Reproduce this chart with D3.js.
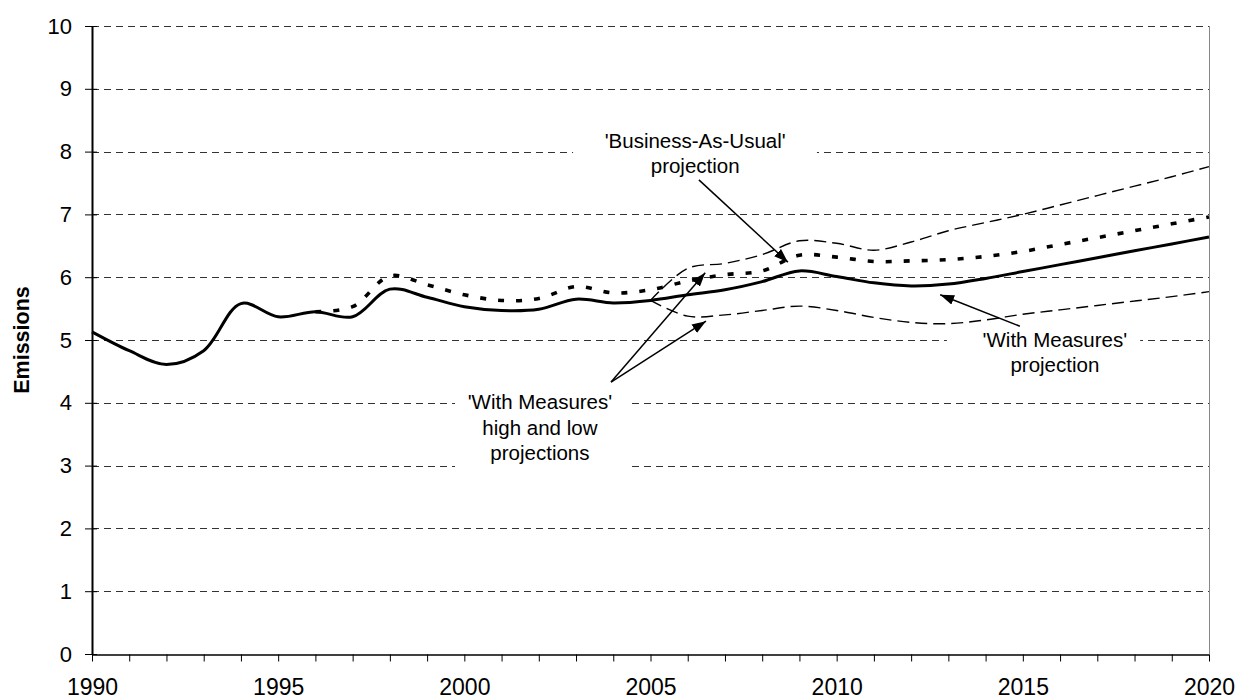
<!DOCTYPE html>
<html>
<head>
<meta charset="utf-8">
<script src="https://cdn.jsdelivr.net/npm/d3@7"></script>
<style>
  body { margin: 0; background: #fff; }
  svg { display: block; }
  text { font-family: "Liberation Sans", Arial, Helvetica, sans-serif; fill: #000; }
</style>
</head>
<body>
<svg id="chart" width="1239" height="700"></svg>
<script>
// Emissions, 1990–2020: history plus projections
const years = [1990, 1991, 1992, 1993, 1994, 1995, 1996, 1997, 1998, 1999,
               2000, 2001, 2002, 2003, 2004, 2005, 2006, 2007, 2008, 2009,
               2010, 2011, 2012, 2013, 2014, 2015, 2016, 2017, 2018, 2019, 2020];

const withMeasures = [5.13, 4.83, 4.61, 4.83, 5.58, 5.37, 5.45, 5.37, 5.81, 5.68,
                      5.53, 5.47, 5.49, 5.65, 5.59, 5.63, 5.72, 5.80, 5.93, 6.10,
                      6.01, 5.91, 5.86, 5.89, 5.98, 6.09, 6.20, 6.31, 6.42, 6.53, 6.64];

const businessAsUsual = [null, null, null, null, null, null, 5.45, 5.53, 6.02, 5.88,
                         5.72, 5.63, 5.66, 5.85, 5.75, 5.80, 5.94, 6.04, 6.10, 6.35,
                         6.32, 6.25, 6.26, 6.28, 6.33, 6.41, 6.52, 6.63, 6.74, 6.85, 6.96];

const withMeasuresHigh = [null, null, null, null, null, null, null, null, null, null,
                          null, null, null, null, null, 5.63, 6.14, 6.22, 6.36, 6.58,
                          6.54, 6.43, 6.56, 6.74, 6.87, 7.00, 7.15, 7.30, 7.45, 7.60, 7.76];

const withMeasuresLow = [null, null, null, null, null, null, null, null, null, null,
                         null, null, null, null, null, 5.63, 5.38, 5.40, 5.47, 5.54,
                         5.47, 5.36, 5.28, 5.26, 5.32, 5.41, 5.48, 5.55, 5.62, 5.69, 5.77];

const yTicks = [0, 1, 2, 3, 4, 5, 6, 7, 8, 9, 10];
const xTickLabels = [1990, 1995, 2000, 2005, 2010, 2015, 2020];

const svg = d3.select("#chart");
const x = d3.scaleLinear().domain([1990, 2020]).range([92, 1209]);
const y = d3.scaleLinear().domain([0, 10]).range([654, 26]);
const crisp = v => Math.round(v) + 0.5;
const FONT = "'Liberation Sans', Arial, Helvetica, sans-serif";

// horizontal dashed gridlines
svg.append("g").selectAll("line")
  .data(yTicks.filter(v => v > 0))
  .join("line")
  .attr("x1", x(1990)).attr("x2", x(2020))
  .attr("y1", d => crisp(y(d))).attr("y2", d => crisp(y(d)))
  .attr("stroke", "#333").attr("stroke-width", 1)
  .attr("stroke-dasharray", "7,5");

// right edge of the plot area
svg.append("line")
  .attr("x1", crisp(x(2020))).attr("x2", crisp(x(2020)))
  .attr("y1", y(10)).attr("y2", y(0))
  .attr("stroke", "#888").attr("stroke-width", 1);

// white panels behind the annotation text (in data units)
const panels = [
  { x0: 2002.92, x1: 2009.47, y0: 7.6, y1: 8.4 },
  { x0: 1999.75, x1: 2004.40, y0: 2.7, y1: 4.2 },
  { x0: 2012.96, x1: 2018.15, y0: 4.45, y1: 5.2 }
];
svg.append("g").selectAll("rect")
  .data(panels)
  .join("rect")
  .attr("x", d => x(d.x0)).attr("width", d => x(d.x1) - x(d.x0))
  .attr("y", d => y(d.y1)).attr("height", d => y(d.y0) - y(d.y1))
  .attr("fill", "#fff");

// axes
const yAxis = svg.append("g")
  .attr("transform", `translate(${x(1990)},0)`)
  .call(d3.axisLeft(y).tickValues(yTicks).tickSizeInner(7).tickSizeOuter(0).tickPadding(13));
yAxis.select(".domain").attr("stroke", "#000").attr("stroke-width", 2);
yAxis.selectAll(".tick line").attr("x1", 5).attr("stroke", "#000").attr("stroke-width", 1);
yAxis.selectAll(".tick text").attr("font-size", 22).style("font-family", FONT).attr("fill", "#000");

const xAxis = svg.append("g")
  .attr("transform", `translate(0,${crisp(y(0))})`)
  .call(d3.axisBottom(x).tickValues(years).tickSizeInner(7).tickSizeOuter(0).tickPadding(18)
    .tickFormat(d => xTickLabels.includes(d) ? String(d) : ""));
xAxis.select(".domain").attr("stroke", "#000").attr("stroke-width", 1.5);
xAxis.selectAll(".tick line").attr("stroke", "#000").attr("stroke-width", 1);
xAxis.selectAll(".tick text").attr("font-size", 23).attr("dy", "0.66em")
  .style("font-family", FONT).attr("fill", "#000");

// y-axis title
svg.append("text")
  .attr("transform", `translate(29,${y(5)}) rotate(-90)`)
  .attr("text-anchor", "middle")
  .attr("font-size", 21.5).attr("font-weight", "bold")
  .text("Emissions");

// series lines
const lineGen = values => d3.line()
  .defined((d, i) => values[i] != null)
  .x((d, i) => x(years[i]))
  .y((d, i) => y(values[i]))
  .curve(d3.curveCatmullRom.alpha(0.5))(values);

const series = [
  { values: withMeasuresHigh, width: 1.4, dash: "12,6" },
  { values: withMeasuresLow,  width: 1.4, dash: "12,6" },
  { values: businessAsUsual,  width: 3.6, dash: "6,12" },
  { values: withMeasures,     width: 3,   dash: null }
];
svg.append("g").selectAll("path")
  .data(series)
  .join("path")
  .attr("d", d => lineGen(d.values))
  .attr("fill", "none")
  .attr("stroke", "#000")
  .attr("stroke-width", d => d.width)
  .attr("stroke-dasharray", d => d.dash);

// arrows pointing at the curves
svg.append("defs").append("marker")
  .attr("id", "head")
  .attr("viewBox", "0 0 14 10")
  .attr("refX", 14).attr("refY", 5)
  .attr("markerWidth", 14).attr("markerHeight", 10)
  .attr("markerUnits", "userSpaceOnUse")
  .attr("orient", "auto")
  .append("path").attr("d", "M0,0 L14,5 L0,10 Z").attr("fill", "#000");

const arrows = [
  { from: [2006.30, 7.55], to: [2008.69, 6.24] },
  { from: [2003.94, 4.33], to: [2006.47, 6.07] },
  { from: [2003.94, 4.33], to: [2006.49, 5.30] },
  { from: [2014.92, 5.22], to: [2012.78, 5.72] }
];
svg.append("g").selectAll("line")
  .data(arrows)
  .join("line")
  .attr("x1", d => x(d.from[0])).attr("y1", d => y(d.from[1]))
  .attr("x2", d => x(d.to[0])).attr("y2", d => y(d.to[1]))
  .attr("stroke", "#000").attr("stroke-width", 1.5)
  .attr("marker-end", "url(#head)");

// annotation text
const notes = [
  { at: [2006.20, 8.06], lines: ["'Business-As-Usual'", "projection"] },
  { at: [2015.86, 4.89], lines: ["'With Measures'", "projection"] },
  { at: [2002.03, 3.90], lines: ["'With Measures'", "high and low", "projections"] }
];
const noteText = svg.append("g").selectAll("text")
  .data(notes)
  .join("text")
  .attr("text-anchor", "middle")
  .attr("font-size", 20.5)
  .attr("transform", d => `translate(${x(d.at[0])},${y(d.at[1])})`);
noteText.selectAll("tspan")
  .data(d => d.lines)
  .join("tspan")
  .attr("x", 0)
  .attr("dy", (d, i) => i === 0 ? 0 : 25.5)
  .text(d => d);
</script>
</body>
</html>
